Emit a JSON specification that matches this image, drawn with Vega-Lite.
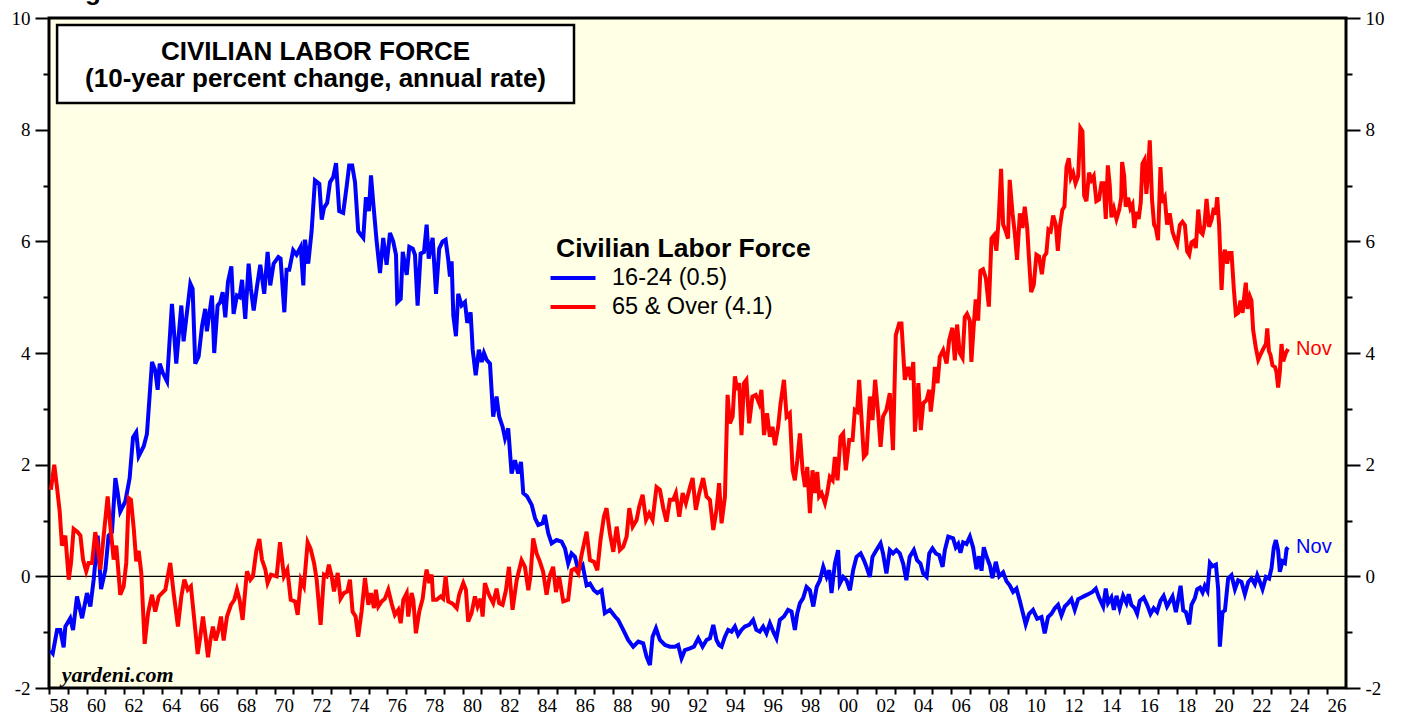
{
"$schema": "https://vega.github.io/schema/vega-lite/v6.json",
"width": 1297, "height": 670,
"autosize": {"type": "none"},
"padding": {"left": 49, "top": 18, "right": 59, "bottom": 35},
"background": "white",
"config": {"view": {"fill": "#FFFFE5", "stroke": "black", "strokeWidth": 3}, "font": "Liberation Sans", "axis": {"labelOverlap": false}},
"title": {"text": "Figure 23.", "anchor": "start", "frame": "group", "fontSize": 26, "font": "Liberation Sans", "fontWeight": "bold", "color": "black", "dx": 13, "dy": 19, "offset": 2, "baseline": "alphabetic"},
"datasets": {
"blue": [
{"t":1958.08,"v":-1.33},{"t":1958.2,"v":-1.38},{"t":1958.43,"v":-0.96},{"t":1958.6,"v":-0.96},{"t":1958.78,"v":-1.27},{"t":1958.87,"v":-0.9},{"t":1959.13,"v":-0.75},{"t":1959.28,"v":-0.96},{"t":1959.49,"v":-0.36},{"t":1959.76,"v":-0.75},{"t":1960.02,"v":-0.3},{"t":1960.2,"v":-0.54},{"t":1960.38,"v":-0.05},{"t":1960.59,"v":0.73},{"t":1960.77,"v":-0.23},{"t":1961.0,"v":0.12},{"t":1961.17,"v":0.73},{"t":1961.35,"v":0.79},{"t":1961.53,"v":1.76},{"t":1961.65,"v":1.51},{"t":1961.79,"v":1.16},{"t":1962.06,"v":1.34},{"t":1962.29,"v":1.76},{"t":1962.47,"v":2.49},{"t":1962.64,"v":2.58},{"t":1962.77,"v":2.15},{"t":1963.04,"v":2.33},{"t":1963.21,"v":2.55},{"t":1963.48,"v":3.84},{"t":1963.65,"v":3.69},{"t":1963.78,"v":3.34},{"t":1963.89,"v":3.81},{"t":1964.06,"v":3.64},{"t":1964.28,"v":3.49},{"t":1964.54,"v":4.88},{"t":1964.63,"v":4.48},{"t":1964.77,"v":3.81},{"t":1965.04,"v":4.85},{"t":1965.16,"v":4.21},{"t":1965.34,"v":4.73},{"t":1965.52,"v":5.24},{"t":1965.64,"v":5.15},{"t":1965.78,"v":3.81},{"t":1965.96,"v":3.94},{"t":1966.14,"v":4.48},{"t":1966.31,"v":4.79},{"t":1966.4,"v":4.39},{"t":1966.67,"v":5.03},{"t":1966.79,"v":4.0},{"t":1966.97,"v":4.85},{"t":1967.11,"v":4.91},{"t":1967.24,"v":5.09},{"t":1967.38,"v":4.64},{"t":1967.52,"v":5.27},{"t":1967.7,"v":5.55},{"t":1967.82,"v":4.7},{"t":1968.0,"v":5.03},{"t":1968.14,"v":5.0},{"t":1968.27,"v":5.31},{"t":1968.44,"v":4.61},{"t":1968.62,"v":5.6},{"t":1968.74,"v":5.15},{"t":1968.89,"v":4.76},{"t":1969.06,"v":5.18},{"t":1969.24,"v":5.58},{"t":1969.45,"v":5.06},{"t":1969.63,"v":5.81},{"t":1969.77,"v":5.21},{"t":1969.95,"v":5.6},
{"t":1970.2,"v":5.72},{"t":1970.32,"v":5.69},{"t":1970.52,"v":4.73},{"t":1970.64,"v":5.49},{"t":1970.78,"v":5.49},{"t":1970.99,"v":5.84},{"t":1971.17,"v":5.76},{"t":1971.39,"v":5.9},{"t":1971.53,"v":5.21},{"t":1971.62,"v":6.03},{"t":1971.79,"v":5.6},{"t":1971.97,"v":6.18},{"t":1972.15,"v":7.09},{"t":1972.38,"v":7.03},{"t":1972.51,"v":6.39},{"t":1972.63,"v":6.6},{"t":1972.8,"v":6.69},{"t":1972.95,"v":7.06},{"t":1973.12,"v":7.15},{"t":1973.27,"v":7.4},{"t":1973.44,"v":6.54},{"t":1973.65,"v":6.51},{"t":1973.83,"v":6.97},{"t":1973.97,"v":7.36},{"t":1974.13,"v":7.36},{"t":1974.28,"v":7.06},{"t":1974.45,"v":6.18},{"t":1974.58,"v":6.12},{"t":1974.72,"v":6.06},{"t":1974.86,"v":6.79},{"t":1975.02,"v":6.54},{"t":1975.13,"v":7.18},{"t":1975.25,"v":6.69},{"t":1975.43,"v":6.0},{"t":1975.61,"v":5.43},{"t":1975.78,"v":6.06},{"t":1975.96,"v":5.58},{"t":1976.14,"v":6.15},{"t":1976.31,"v":6.0},{"t":1976.46,"v":5.76},{"t":1976.53,"v":4.91},{"t":1976.71,"v":4.97},{"t":1976.82,"v":5.81},{"t":1977.03,"v":5.4},{"t":1977.17,"v":5.9},{"t":1977.35,"v":5.87},{"t":1977.47,"v":5.76},{"t":1977.61,"v":4.85},{"t":1977.77,"v":5.78},{"t":1977.95,"v":5.81},{"t":1978.09,"v":6.3},{"t":1978.2,"v":5.69},{"t":1978.41,"v":6.06},{"t":1978.59,"v":5.06},{"t":1978.76,"v":5.87},{"t":1978.94,"v":6.0},{"t":1979.1,"v":6.03},{"t":1979.24,"v":5.67},{"t":1979.33,"v":5.37},{"t":1979.42,"v":5.64},{"t":1979.51,"v":4.67},{"t":1979.65,"v":4.3},{"t":1979.77,"v":5.06},{"t":1979.95,"v":4.85},{"t":1980.13,"v":4.91},{"t":1980.25,"v":4.54},{"t":1980.43,"v":4.73},{"t":1980.54,"v":4.06},{"t":1980.7,"v":3.6},{"t":1980.87,"v":4.06},{"t":1981.02,"v":3.84},{"t":1981.14,"v":4.0},{"t":1981.28,"v":3.88},{"t":1981.46,"v":3.81},
{"t":1981.63,"v":2.86},{"t":1981.81,"v":3.22},{"t":1981.95,"v":2.86},{"t":1982.13,"v":2.68},{"t":1982.26,"v":2.47},{"t":1982.43,"v":2.65},{"t":1982.61,"v":1.84},{"t":1982.79,"v":2.08},{"t":1982.96,"v":1.84},{"t":1983.11,"v":2.05},{"t":1983.23,"v":1.49},{"t":1983.44,"v":1.43},{"t":1983.68,"v":1.28},{"t":1983.86,"v":1.04},{"t":1984.03,"v":0.92},{"t":1984.26,"v":0.95},{"t":1984.38,"v":1.1},{"t":1984.56,"v":0.77},{"t":1984.74,"v":0.59},{"t":1985.0,"v":0.65},{"t":1985.27,"v":0.62},{"t":1985.45,"v":0.5},{"t":1985.62,"v":0.23},{"t":1985.8,"v":0.41},{"t":1985.98,"v":0.35},{"t":1986.16,"v":0.11},{"t":1986.39,"v":0.2},{"t":1986.6,"v":-0.16},{"t":1986.78,"v":-0.13},{"t":1986.99,"v":-0.25},{"t":1987.17,"v":-0.3},{"t":1987.4,"v":-0.25},{"t":1987.57,"v":-0.66},{"t":1987.84,"v":-0.6},{"t":1988.11,"v":-0.72},{"t":1988.28,"v":-0.78},{"t":1988.55,"v":-0.96},{"t":1988.81,"v":-1.14},{"t":1989.08,"v":-1.26},{"t":1989.35,"v":-1.17},{"t":1989.61,"v":-1.2},{"t":1989.79,"v":-1.44},{"t":1989.97,"v":-1.59},{"t":1990.11,"v":-1.08},{"t":1990.29,"v":-0.93},{"t":1990.5,"v":-1.14},{"t":1990.77,"v":-1.23},{"t":1991.03,"v":-1.26},{"t":1991.3,"v":-1.26},{"t":1991.47,"v":-1.23},{"t":1991.65,"v":-1.47},{"t":1991.83,"v":-1.32},{"t":1992.1,"v":-1.29},{"t":1992.31,"v":-1.26},{"t":1992.54,"v":-1.11},{"t":1992.77,"v":-1.26},{"t":1992.98,"v":-1.14},{"t":1993.16,"v":-1.11},{"t":1993.34,"v":-0.87},{"t":1993.51,"v":-1.14},{"t":1993.65,"v":-1.23},
{"t":1993.78,"v":-1.26},{"t":1993.96,"v":-1.08},{"t":1994.13,"v":-0.96},{"t":1994.31,"v":-0.99},{"t":1994.49,"v":-0.9},{"t":1994.66,"v":-1.05},{"t":1994.84,"v":-0.96},{"t":1995.02,"v":-0.9},{"t":1995.25,"v":-0.87},{"t":1995.46,"v":-0.78},{"t":1995.63,"v":-0.96},{"t":1995.81,"v":-0.99},{"t":1995.99,"v":-0.9},{"t":1996.17,"v":-1.02},{"t":1996.35,"v":-0.84},{"t":1996.53,"v":-0.99},{"t":1996.7,"v":-1.11},{"t":1996.88,"v":-0.78},{"t":1997.1,"v":-0.72},{"t":1997.32,"v":-0.6},{"t":1997.5,"v":-0.63},{"t":1997.68,"v":-0.96},{"t":1997.81,"v":-0.66},{"t":1997.95,"v":-0.48},{"t":1998.12,"v":-0.39},{"t":1998.3,"v":-0.19},{"t":1998.48,"v":-0.25},{"t":1998.66,"v":-0.54},{"t":1998.84,"v":-0.19},{"t":1999.01,"v":-0.07},{"t":1999.19,"v":0.17},{"t":1999.37,"v":-0.01},{"t":1999.51,"v":0.11},{"t":1999.63,"v":-0.3},{"t":1999.81,"v":0.23},{"t":1999.98,"v":0.47},{"t":2000.07,"v":-0.13},{"t":2000.25,"v":-0.01},{"t":2000.43,"v":-0.07},{"t":2000.61,"v":-0.25},{"t":2000.78,"v":0.11},{"t":2000.96,"v":0.35},{"t":2001.18,"v":0.41},{"t":2001.35,"v":0.29},{"t":2001.49,"v":0.17},{"t":2001.67,"v":-0.01},{"t":2001.81,"v":0.35},{"t":2002.02,"v":0.47},{"t":2002.24,"v":0.59},{"t":2002.37,"v":0.41},{"t":2002.55,"v":0.05},{"t":2002.73,"v":0.47},{"t":2002.9,"v":0.41},{"t":2003.08,"v":0.47},{"t":2003.26,"v":0.41},{"t":2003.44,"v":0.23},{"t":2003.61,"v":-0.07},{"t":2003.79,"v":0.35},{"t":2004.01,"v":0.47},{"t":2004.18,"v":0.29},{"t":2004.36,"v":0.23},{"t":2004.51,"v":0.05},{"t":2004.69,"v":-0.01},{"t":2004.83,"v":0.41},{"t":2005.0,"v":0.5},{"t":2005.18,"v":0.41},{"t":2005.36,"v":0.38},{"t":2005.54,"v":0.17},{"t":2005.66,"v":0.47},{"t":2005.84,"v":0.71},
{"t":2006.1,"v":0.68},{"t":2006.24,"v":0.52},{"t":2006.37,"v":0.58},{"t":2006.49,"v":0.42},{"t":2006.63,"v":0.61},{"t":2006.81,"v":0.58},{"t":2006.99,"v":0.71},{"t":2007.16,"v":0.52},{"t":2007.34,"v":0.13},{"t":2007.48,"v":0.36},{"t":2007.61,"v":0.1},{"t":2007.73,"v":0.52},{"t":2007.87,"v":0.36},{"t":2008.05,"v":0.2},{"t":2008.19,"v":-0.03},{"t":2008.37,"v":0.26},{"t":2008.55,"v":0.0},{"t":2008.76,"v":0.07},{"t":2008.94,"v":-0.09},{"t":2009.11,"v":-0.16},{"t":2009.29,"v":-0.28},{"t":2009.47,"v":-0.22},{"t":2009.65,"v":-0.44},{"t":2009.82,"v":-0.67},{"t":2009.96,"v":-0.86},{"t":2010.14,"v":-0.67},{"t":2010.35,"v":-0.6},{"t":2010.57,"v":-0.76},{"t":2010.8,"v":-0.73},{"t":2010.97,"v":-1.02},{"t":2011.15,"v":-0.73},{"t":2011.33,"v":-0.67},{"t":2011.51,"v":-0.57},{"t":2011.68,"v":-0.51},{"t":2011.86,"v":-0.7},{"t":2012.04,"v":-0.54},{"t":2012.22,"v":-0.48},{"t":2012.39,"v":-0.41},{"t":2012.57,"v":-0.6},{"t":2012.75,"v":-0.41},{"t":2012.93,"v":-0.38},{"t":2013.1,"v":-0.35},{"t":2013.28,"v":-0.32},{"t":2013.51,"v":-0.28},{"t":2013.69,"v":-0.22},{"t":2013.86,"v":-0.38},{"t":2014.08,"v":-0.54},{"t":2014.22,"v":-0.22},{"t":2014.34,"v":-0.48},{"t":2014.52,"v":-0.38},{"t":2014.65,"v":-0.6},{"t":2014.79,"v":-0.35},{"t":2014.96,"v":-0.57},{"t":2015.14,"v":-0.35},{"t":2015.32,"v":-0.48},{"t":2015.44,"v":-0.32},{"t":2015.58,"v":-0.51},{"t":2015.76,"v":-0.57},{"t":2015.89,"v":-0.67},{"t":2016.03,"v":-0.44},{"t":2016.24,"v":-0.38},{"t":2016.42,"v":-0.51},{"t":2016.6,"v":-0.67},{"t":2016.77,"v":-0.57},{"t":2016.95,"v":-0.64},{"t":2017.13,"v":-0.44},{"t":2017.3,"v":-0.35},{"t":2017.48,"v":-0.54},
{"t":2017.77,"v":-0.36},{"t":2017.95,"v":-0.64},{"t":2018.07,"v":-0.42},{"t":2018.2,"v":-0.17},{"t":2018.34,"v":-0.61},{"t":2018.48,"v":-0.64},{"t":2018.66,"v":-0.86},{"t":2018.78,"v":-0.51},{"t":2018.96,"v":-0.39},{"t":2019.08,"v":-0.23},{"t":2019.23,"v":-0.2},{"t":2019.37,"v":-0.29},{"t":2019.49,"v":-0.17},{"t":2019.63,"v":-0.26},{"t":2019.76,"v":0.24},{"t":2019.9,"v":0.18},{"t":2020.08,"v":0.21},{"t":2020.2,"v":-0.23},{"t":2020.29,"v":-1.26},{"t":2020.43,"v":-0.64},{"t":2020.56,"v":-0.61},{"t":2020.73,"v":-0.04},{"t":2020.91,"v":0.02},{"t":2021.09,"v":-0.23},{"t":2021.26,"v":-0.07},{"t":2021.44,"v":-0.1},{"t":2021.62,"v":-0.32},{"t":2021.8,"v":-0.1},{"t":2021.97,"v":-0.04},{"t":2022.15,"v":-0.14},{"t":2022.28,"v":0.02},{"t":2022.42,"v":-0.1},{"t":2022.56,"v":-0.23},{"t":2022.74,"v":-0.01},{"t":2022.91,"v":-0.04},{"t":2023.04,"v":0.15},{"t":2023.16,"v":0.52},{"t":2023.27,"v":0.65},{"t":2023.39,"v":0.46},{"t":2023.48,"v":0.08},{"t":2023.62,"v":0.27},{"t":2023.75,"v":0.24},{"t":2023.84,"v":0.49},{"t":2023.92,"v":0.52}
],
"red": [
{"t":1958.1,"v":1.55},{"t":1958.28,"v":2.0},{"t":1958.43,"v":1.58},{"t":1958.57,"v":1.16},{"t":1958.69,"v":0.55},{"t":1958.87,"v":0.73},{"t":1959.05,"v":-0.06},{"t":1959.17,"v":0.24},{"t":1959.31,"v":0.85},{"t":1959.53,"v":0.79},{"t":1959.67,"v":0.73},{"t":1959.81,"v":0.3},{"t":1959.98,"v":0.09},{"t":1960.11,"v":0.24},{"t":1960.29,"v":0.24},{"t":1960.46,"v":0.79},{"t":1960.59,"v":0.55},{"t":1960.73,"v":0.12},{"t":1960.91,"v":0.73},{"t":1961.12,"v":1.43},{"t":1961.26,"v":0.91},{"t":1961.44,"v":0.3},{"t":1961.58,"v":0.55},{"t":1961.79,"v":-0.33},{"t":1961.97,"v":-0.18},{"t":1962.11,"v":0.24},{"t":1962.24,"v":1.4},{"t":1962.36,"v":1.37},{"t":1962.51,"v":0.85},{"t":1962.64,"v":0.27},{"t":1962.77,"v":0.46},{"t":1962.91,"v":0.06},{"t":1963.09,"v":-1.21},{"t":1963.27,"v":-0.66},{"t":1963.48,"v":-0.33},{"t":1963.65,"v":-0.63},{"t":1963.84,"v":-0.36},{"t":1964.01,"v":-0.3},{"t":1964.19,"v":-0.24},{"t":1964.45,"v":0.24},{"t":1964.63,"v":-0.3},{"t":1964.86,"v":-0.9},{"t":1965.04,"v":-0.36},{"t":1965.2,"v":-0.06},{"t":1965.38,"v":-0.24},{"t":1965.55,"v":-0.18},{"t":1965.73,"v":-0.78},{"t":1965.91,"v":-1.39},{"t":1966.05,"v":-1.08},{"t":1966.19,"v":-0.72},{"t":1966.31,"v":-1.02},{"t":1966.46,"v":-1.45},{"t":1966.58,"v":-1.15},{"t":1966.72,"v":-0.9},{"t":1966.87,"v":-1.15},{"t":1967.02,"v":-0.96},{"t":1967.15,"v":-0.72},{"t":1967.29,"v":-1.15},{"t":1967.47,"v":-0.72},{"t":1967.68,"v":-0.51},{"t":1967.86,"v":-0.42},{"t":1968.0,"v":-0.24},{"t":1968.14,"v":-0.42},{"t":1968.3,"v":-0.78},{"t":1968.53,"v":0.09},{"t":1968.71,"v":-0.06},{"t":1968.85,"v":0.0},{"t":1969.03,"v":0.46},{"t":1969.19,"v":0.67},{"t":1969.33,"v":0.3},{"t":1969.51,"v":0.12},{"t":1969.63,"v":-0.12},{"t":1969.81,"v":0.03},
{"t":1970.11,"v":0.0},{"t":1970.29,"v":0.61},{"t":1970.5,"v":0.0},{"t":1970.68,"v":0.12},{"t":1970.86,"v":-0.42},{"t":1971.09,"v":-0.45},{"t":1971.23,"v":-0.69},{"t":1971.4,"v":-0.06},{"t":1971.56,"v":-0.18},{"t":1971.76,"v":0.61},{"t":1971.92,"v":0.49},{"t":1972.1,"v":0.24},{"t":1972.24,"v":-0.06},{"t":1972.45,"v":-0.87},{"t":1972.63,"v":0.03},{"t":1972.77,"v":0.0},{"t":1972.89,"v":0.21},{"t":1973.04,"v":0.0},{"t":1973.16,"v":-0.27},{"t":1973.36,"v":0.06},{"t":1973.51,"v":-0.4},{"t":1973.69,"v":-0.3},{"t":1973.87,"v":-0.27},{"t":1974.01,"v":-0.06},{"t":1974.15,"v":-0.63},{"t":1974.31,"v":-0.72},{"t":1974.45,"v":-1.08},{"t":1974.63,"v":-0.63},{"t":1974.81,"v":-0.03},{"t":1974.99,"v":-0.51},{"t":1975.13,"v":-0.3},{"t":1975.29,"v":-0.57},{"t":1975.39,"v":-0.24},{"t":1975.52,"v":-0.54},{"t":1975.7,"v":-0.45},{"t":1975.87,"v":-0.4},{"t":1976.05,"v":-0.24},{"t":1976.23,"v":-0.49},{"t":1976.4,"v":-0.69},{"t":1976.58,"v":-0.6},{"t":1976.71,"v":-0.84},{"t":1976.85,"v":-0.42},{"t":1977.03,"v":-0.3},{"t":1977.11,"v":-0.72},{"t":1977.29,"v":-0.3},{"t":1977.38,"v":-0.42},{"t":1977.52,"v":-1.02},{"t":1977.7,"v":-0.63},{"t":1977.88,"v":-0.4},{"t":1978.0,"v":-0.06},{"t":1978.09,"v":0.12},{"t":1978.23,"v":-0.12},{"t":1978.36,"v":0.03},{"t":1978.44,"v":-0.42},{"t":1978.62,"v":-0.42},{"t":1978.84,"v":-0.36},{"t":1978.97,"v":-0.4},{"t":1979.1,"v":0.0},{"t":1979.24,"v":-0.45},{"t":1979.47,"v":-0.49},{"t":1979.69,"v":-0.57},{"t":1979.82,"v":-0.33},{"t":1980.04,"v":-0.12},{"t":1980.18,"v":-0.24},{"t":1980.3,"v":-0.81},{"t":1980.48,"v":-0.66},{"t":1980.66,"v":-0.36},{"t":1980.8,"v":-0.54},{"t":1980.96,"v":-0.4},{"t":1981.07,"v":-0.72},{"t":1981.19,"v":-0.12},{"t":1981.37,"v":-0.3},
{"t":1981.46,"v":-0.37},{"t":1981.63,"v":-0.48},{"t":1981.81,"v":-0.22},{"t":1981.95,"v":-0.48},{"t":1982.13,"v":-0.51},{"t":1982.31,"v":-0.25},{"t":1982.47,"v":0.17},{"t":1982.66,"v":-0.6},{"t":1982.88,"v":-0.07},{"t":1983.14,"v":0.29},{"t":1983.32,"v":0.17},{"t":1983.5,"v":-0.25},{"t":1983.62,"v":0.02},{"t":1983.76,"v":0.68},{"t":1983.94,"v":0.41},{"t":1984.12,"v":0.26},{"t":1984.29,"v":0.08},{"t":1984.47,"v":-0.33},{"t":1984.65,"v":0.02},{"t":1984.82,"v":0.17},{"t":1984.97,"v":-0.28},{"t":1985.14,"v":-0.01},{"t":1985.36,"v":-0.45},{"t":1985.62,"v":-0.42},{"t":1985.8,"v":0.11},{"t":1985.98,"v":0.14},{"t":1986.16,"v":0.05},{"t":1986.33,"v":0.38},{"t":1986.6,"v":0.8},{"t":1986.78,"v":0.29},{"t":1986.99,"v":0.26},{"t":1987.17,"v":0.11},{"t":1987.34,"v":0.65},{"t":1987.52,"v":1.07},{"t":1987.66,"v":1.22},{"t":1987.84,"v":0.77},{"t":1988.02,"v":0.44},{"t":1988.2,"v":0.89},{"t":1988.37,"v":0.47},{"t":1988.55,"v":0.53},{"t":1988.73,"v":0.71},{"t":1988.87,"v":1.22},{"t":1989.05,"v":0.89},{"t":1989.26,"v":1.01},{"t":1989.4,"v":1.25},{"t":1989.58,"v":1.46},{"t":1989.76,"v":1.01},{"t":1989.93,"v":1.13},{"t":1990.11,"v":1.01},{"t":1990.32,"v":1.6},{"t":1990.5,"v":1.55},{"t":1990.68,"v":1.22},{"t":1990.85,"v":0.98},{"t":1991.03,"v":1.37},{"t":1991.21,"v":1.37},{"t":1991.35,"v":1.49},{"t":1991.53,"v":1.07},{"t":1991.71,"v":1.49},{"t":1991.88,"v":1.31},{"t":1992.1,"v":1.6},{"t":1992.24,"v":1.76},{"t":1992.41,"v":1.19},{"t":1992.59,"v":1.49},{"t":1992.8,"v":1.76},{"t":1992.98,"v":1.43},{"t":1993.16,"v":1.37},{"t":1993.34,"v":0.83},{"t":1993.51,"v":1.19},{"t":1993.65,"v":1.67},
{"t":1993.78,"v":0.95},{"t":1993.96,"v":1.43},{"t":1994.1,"v":3.25},{"t":1994.22,"v":2.74},{"t":1994.37,"v":2.86},{"t":1994.49,"v":3.58},{"t":1994.61,"v":3.34},{"t":1994.72,"v":3.46},{"t":1994.84,"v":2.53},{"t":1994.97,"v":3.46},{"t":1995.1,"v":3.52},{"t":1995.25,"v":2.74},{"t":1995.42,"v":3.22},{"t":1995.6,"v":3.25},{"t":1995.78,"v":3.1},{"t":1995.9,"v":3.34},{"t":1996.04,"v":2.53},{"t":1996.2,"v":2.92},{"t":1996.35,"v":2.5},{"t":1996.49,"v":2.68},{"t":1996.62,"v":2.35},{"t":1996.79,"v":2.68},{"t":1996.92,"v":3.1},{"t":1997.1,"v":3.52},{"t":1997.24,"v":2.86},{"t":1997.41,"v":2.92},{"t":1997.56,"v":1.9},{"t":1997.68,"v":1.72},{"t":1997.81,"v":2.08},{"t":1997.95,"v":2.56},{"t":1998.09,"v":1.9},{"t":1998.22,"v":1.6},{"t":1998.34,"v":1.96},{"t":1998.48,"v":1.13},{"t":1998.62,"v":1.9},{"t":1998.75,"v":1.49},{"t":1998.87,"v":1.87},{"t":1998.97,"v":1.43},{"t":1999.1,"v":1.49},{"t":1999.28,"v":1.31},{"t":1999.4,"v":1.49},{"t":1999.54,"v":1.78},{"t":1999.69,"v":1.72},{"t":1999.81,"v":2.14},{"t":1999.95,"v":1.72},{"t":2000.11,"v":2.5},{"t":2000.25,"v":2.56},{"t":2000.39,"v":1.9},{"t":2000.57,"v":2.44},{"t":2000.75,"v":2.44},{"t":2000.87,"v":2.98},{"t":2000.99,"v":2.95},{"t":2001.1,"v":3.52},{"t":2001.22,"v":2.86},{"t":2001.35,"v":2.14},{"t":2001.49,"v":2.2},{"t":2001.67,"v":3.22},{"t":2001.81,"v":2.8},{"t":2001.95,"v":3.52},{"t":2002.11,"v":2.92},{"t":2002.24,"v":2.32},{"t":2002.37,"v":2.86},{"t":2002.55,"v":2.98},{"t":2002.73,"v":3.28},{"t":2002.9,"v":2.26},{"t":2003.05,"v":4.32},{"t":2003.23,"v":4.53},{"t":2003.35,"v":4.53},{"t":2003.53,"v":3.52},{"t":2003.71,"v":3.75},{"t":2003.86,"v":3.52},{"t":2003.98,"v":3.84},{"t":2004.07,"v":2.59},{"t":2004.25,"v":3.46},{"t":2004.38,"v":2.62},{"t":2004.51,"v":3.1},{"t":2004.69,"v":3.16},{"t":2004.83,"v":3.34},{"t":2004.91,"v":2.95},{"t":2005.04,"v":3.34},{"t":2005.13,"v":3.75},{"t":2005.27,"v":3.46},{"t":2005.39,"v":3.93},{"t":2005.57,"v":4.05},{"t":2005.75,"v":3.81},{"t":2005.89,"v":4.23},
{"t":2006.06,"v":4.45},{"t":2006.19,"v":3.87},{"t":2006.31,"v":4.51},{"t":2006.45,"v":4.0},{"t":2006.6,"v":3.91},{"t":2006.72,"v":4.64},{"t":2006.84,"v":4.7},{"t":2006.99,"v":4.58},{"t":2007.07,"v":3.84},{"t":2007.2,"v":4.51},{"t":2007.3,"v":4.96},{"t":2007.43,"v":4.58},{"t":2007.55,"v":5.47},{"t":2007.69,"v":5.5},{"t":2007.84,"v":5.34},{"t":2008.0,"v":4.83},{"t":2008.14,"v":6.05},{"t":2008.28,"v":6.11},{"t":2008.4,"v":5.83},{"t":2008.53,"v":6.43},{"t":2008.65,"v":7.3},{"t":2008.76,"v":6.3},{"t":2008.9,"v":6.18},{"t":2009.02,"v":6.05},{"t":2009.11,"v":7.1},{"t":2009.26,"v":6.5},{"t":2009.38,"v":6.15},{"t":2009.5,"v":5.67},{"t":2009.65,"v":6.5},{"t":2009.79,"v":6.24},{"t":2009.91,"v":6.62},{"t":2010.04,"v":6.24},{"t":2010.14,"v":5.67},{"t":2010.25,"v":5.09},{"t":2010.39,"v":5.22},{"t":2010.53,"v":5.76},{"t":2010.67,"v":5.73},{"t":2010.82,"v":5.41},{"t":2010.94,"v":5.73},{"t":2011.06,"v":5.79},{"t":2011.17,"v":6.21},{"t":2011.29,"v":6.18},{"t":2011.42,"v":6.46},{"t":2011.56,"v":6.3},{"t":2011.67,"v":5.83},{"t":2011.77,"v":6.24},{"t":2011.91,"v":6.56},{"t":2012.02,"v":6.62},{"t":2012.13,"v":7.33},{"t":2012.25,"v":7.49},{"t":2012.36,"v":7.14},{"t":2012.48,"v":7.23},{"t":2012.61,"v":7.04},{"t":2012.75,"v":7.17},{"t":2012.87,"v":8.03},{"t":2012.98,"v":7.97},{"t":2013.07,"v":6.82},{"t":2013.19,"v":6.72},{"t":2013.33,"v":7.23},{"t":2013.46,"v":7.1},{"t":2013.58,"v":7.17},{"t":2013.72,"v":6.72},{"t":2013.86,"v":6.75},{"t":2013.99,"v":7.04},{"t":2014.11,"v":7.04},{"t":2014.22,"v":6.4},{"t":2014.33,"v":7.36},{"t":2014.43,"v":7.01},{"t":2014.52,"v":6.43},{"t":2014.65,"v":6.59},{"t":2014.79,"v":6.4},{"t":2014.93,"v":6.56},{"t":2015.04,"v":6.78},{"t":2015.09,"v":7.42},{"t":2015.2,"v":7.17},{"t":2015.28,"v":6.62},{"t":2015.41,"v":6.78},{"t":2015.53,"v":6.59},{"t":2015.64,"v":6.66},{"t":2015.74,"v":6.24},{"t":2015.85,"v":6.53},{"t":2015.97,"v":6.4},{"t":2016.08,"v":6.69},{"t":2016.17,"v":7.39},{"t":2016.28,"v":7.46},{"t":2016.38,"v":6.85},{"t":2016.47,"v":7.23},{"t":2016.56,"v":7.81},{"t":2016.68,"v":6.75},{"t":2016.79,"v":6.3},{"t":2016.88,"v":6.24},{"t":2017.0,"v":6.02},{"t":2017.13,"v":7.33},{"t":2017.23,"v":6.69},{"t":2017.36,"v":6.78},{"t":2017.48,"v":6.3},{"t":2017.62,"v":6.5},
{"t":2017.77,"v":6.17},{"t":2017.9,"v":6.04},{"t":2018.02,"v":5.95},{"t":2018.16,"v":6.29},{"t":2018.3,"v":6.35},{"t":2018.43,"v":6.29},{"t":2018.55,"v":5.82},{"t":2018.66,"v":5.76},{"t":2018.78,"v":5.98},{"t":2018.91,"v":6.01},{"t":2019.01,"v":5.88},{"t":2019.14,"v":6.57},{"t":2019.26,"v":6.17},{"t":2019.37,"v":6.13},{"t":2019.47,"v":6.29},{"t":2019.58,"v":6.76},{"t":2019.72,"v":6.26},{"t":2019.85,"v":6.39},{"t":2019.97,"v":6.6},{"t":2020.06,"v":6.48},{"t":2020.15,"v":6.79},{"t":2020.25,"v":6.29},{"t":2020.38,"v":5.13},{"t":2020.47,"v":5.73},{"t":2020.56,"v":5.85},{"t":2020.68,"v":5.6},{"t":2020.79,"v":5.79},{"t":2020.91,"v":5.79},{"t":2021.03,"v":5.16},{"t":2021.14,"v":4.69},{"t":2021.26,"v":4.72},{"t":2021.39,"v":4.94},{"t":2021.5,"v":4.72},{"t":2021.57,"v":4.97},{"t":2021.67,"v":5.26},{"t":2021.76,"v":4.79},{"t":2021.89,"v":5.01},{"t":2021.97,"v":4.94},{"t":2022.06,"v":4.41},{"t":2022.2,"v":4.1},{"t":2022.33,"v":3.88},{"t":2022.45,"v":3.97},{"t":2022.59,"v":4.07},{"t":2022.74,"v":4.16},{"t":2022.81,"v":4.44},{"t":2022.9,"v":4.03},{"t":2022.98,"v":3.97},{"t":2023.09,"v":3.78},{"t":2023.22,"v":3.75},{"t":2023.3,"v":3.66},{"t":2023.39,"v":3.38},{"t":2023.48,"v":3.66},{"t":2023.57,"v":4.16},{"t":2023.66,"v":3.85},{"t":2023.8,"v":4.0},{"t":2023.92,"v":4.07}
]
},
"layer": [
{
"data": {"values": [{}]},
"mark": {"type": "rule", "color": "black", "strokeWidth": 1.3},
"encoding": {
"y": {"datum": 0, "type": "quantitative", "scale": {"domain": [-2, 10], "nice": false, "zero": false},
"axis": {"orient": "right", "values": [-2,-1,0,1,2,3,4,5,6,7,8,9,10], "tickCount": 100, "labelExpr": "datum.value % 2 == 0 ? toString(datum.value) : ''", "tickSize": {"condition": {"test": "datum.value % 2 == 0", "value": 14}, "value": 6}, "tickWidth": 2, "tickColor": "black", "domain": false, "grid": false, "title": null, "labelFont": "Liberation Serif", "labelFontSize": 19, "labelColor": "black", "labelPadding": 5, "labelFlush": false, "labelOverlap": false}}
}
},
{
"data": {"name": "blue"},
"mark": {"type": "line", "strokeWidth": 4},
"encoding": {
"x": {"field": "t", "type": "quantitative", "scale": {"domain": [1958, 2027], "nice": false, "zero": false},
"axis": {"orient": "bottom", "values": [1958,1959,1960,1961,1962,1963,1964,1965,1966,1967,1968,1969,1970,1971,1972,1973,1974,1975,1976,1977,1978,1979,1980,1981,1982,1983,1984,1985,1986,1987,1988,1989,1990,1991,1992,1993,1994,1995,1996,1997,1998,1999,2000,2001,2002,2003,2004,2005,2006,2007,2008,2009,2010,2011,2012,2013,2014,2015,2016,2017,2018,2019,2020,2021,2022,2023,2024,2025,2026], "tickCount": 200, "labelExpr": "datum.value % 2 == 0 ? substring(toString(datum.value), 2, 4) : ''", "labelOffset": 9.4, "tickSize": 6, "tickWidth": 2, "tickColor": "black", "domain": false, "grid": false, "title": null, "labelFont": "Liberation Serif", "labelFontSize": 19, "labelColor": "black", "labelPadding": 2, "labelFlush": false, "labelOverlap": false, "labelBound": false}},
"y": {"field": "v", "type": "quantitative", "scale": {"domain": [-2, 10], "nice": false, "zero": false},
"axis": {"orient": "left", "values": [-2,-1,0,1,2,3,4,5,6,7,8,9,10], "tickCount": 100, "labelExpr": "datum.value % 2 == 0 ? toString(datum.value) : ''", "tickSize": {"condition": {"test": "datum.value % 2 == 0", "value": 14}, "value": 6}, "tickWidth": 2, "tickColor": "black", "domain": false, "grid": false, "title": null, "labelFont": "Liberation Serif", "labelFontSize": 19, "labelColor": "black", "labelPadding": 5, "labelFlush": false, "labelOverlap": false}},
"color": {"datum": "16-24 (0.5)", "type": "nominal",
"scale": {"domain": ["16-24 (0.5)", "65 & Over (4.1)"], "range": ["#0000FF", "#FF0000"]},
"legend": {"orient": "none", "legendX": 507, "legendY": 218, "title": "Civilian Labor Force", "titleLimit": 500, "titleFontSize": 26.5, "titleFontWeight": "bold", "titleFont": "Liberation Sans", "titleColor": "black", "titlePadding": -1.5, "labelFontSize": 23.5, "labelFont": "Liberation Sans", "labelColor": "black", "labelLimit": 400, "symbolType": "M-1.5,0H1.5", "symbolStrokeWidth": 4, "symbolSize": 900, "rowPadding": -1.7, "labelOffset": 22, "padding": 0}}
}
},
{
"data": {"name": "red"},
"mark": {"type": "line", "strokeWidth": 4},
"encoding": {
"x": {"field": "t", "type": "quantitative"},
"y": {"field": "v", "type": "quantitative", "axis": null},
"color": {"datum": "65 & Over (4.1)", "type": "nominal"}
}
},
{
"data": {"name": "blue"},
"mark": {"type": "text", "align": "left", "baseline": "middle", "dx": 8, "fontSize": 20, "font": "Liberation Sans", "color": "#0000FF"},
"encoding": {
"x": {"field": "t", "aggregate": "max", "type": "quantitative"},
"y": {"field": "v", "aggregate": {"argmax": "t"}, "type": "quantitative", "axis": null},
"text": {"value": "Nov"}
}
},
{
"data": {"name": "red"},
"mark": {"type": "text", "align": "left", "baseline": "middle", "dx": 8, "fontSize": 20, "font": "Liberation Sans", "color": "#FF0000"},
"encoding": {
"x": {"field": "t", "aggregate": "max", "type": "quantitative"},
"y": {"field": "v", "aggregate": {"argmax": "t"}, "type": "quantitative", "axis": null},
"text": {"value": "Nov"}
}
},
{
"data": {"values": [{}]},
"mark": {"type": "rect", "fill": "white", "stroke": "black", "strokeWidth": 2.5},
"encoding": {
"x": {"datum": 1958.43, "type": "quantitative"},
"x2": {"datum": 1985.93},
"y": {"datum": 9.875, "type": "quantitative", "axis": null},
"y2": {"datum": 8.478}
}
},
{
"data": {"values": [{}]},
"mark": {"type": "text", "align": "center", "baseline": "alphabetic", "fontSize": 26, "fontWeight": "bold", "font": "Liberation Sans", "color": "black"},
"encoding": {
"x": {"datum": 1972.18, "type": "quantitative"},
"y": {"datum": 9.248, "type": "quantitative", "axis": null},
"text": {"value": "CIVILIAN LABOR FORCE"}
}
},
{
"data": {"values": [{}]},
"mark": {"type": "text", "align": "center", "baseline": "alphabetic", "fontSize": 26, "fontWeight": "bold", "font": "Liberation Sans", "color": "black"},
"encoding": {
"x": {"datum": 1972.18, "type": "quantitative"},
"y": {"datum": 8.77, "type": "quantitative", "axis": null},
"text": {"value": "(10-year percent change, annual rate)"}
}
},
{
"data": {"values": [{}]},
"mark": {"type": "text", "align": "left", "baseline": "alphabetic", "fontSize": 22, "fontWeight": "bold", "fontStyle": "italic", "font": "Liberation Serif", "color": "black"},
"encoding": {
"x": {"datum": 1958.68, "type": "quantitative"},
"y": {"datum": -1.888, "type": "quantitative", "axis": null},
"text": {"value": "yardeni.com"}
}
}
],
"resolve": {"axis": {"y": "independent"}}
}
